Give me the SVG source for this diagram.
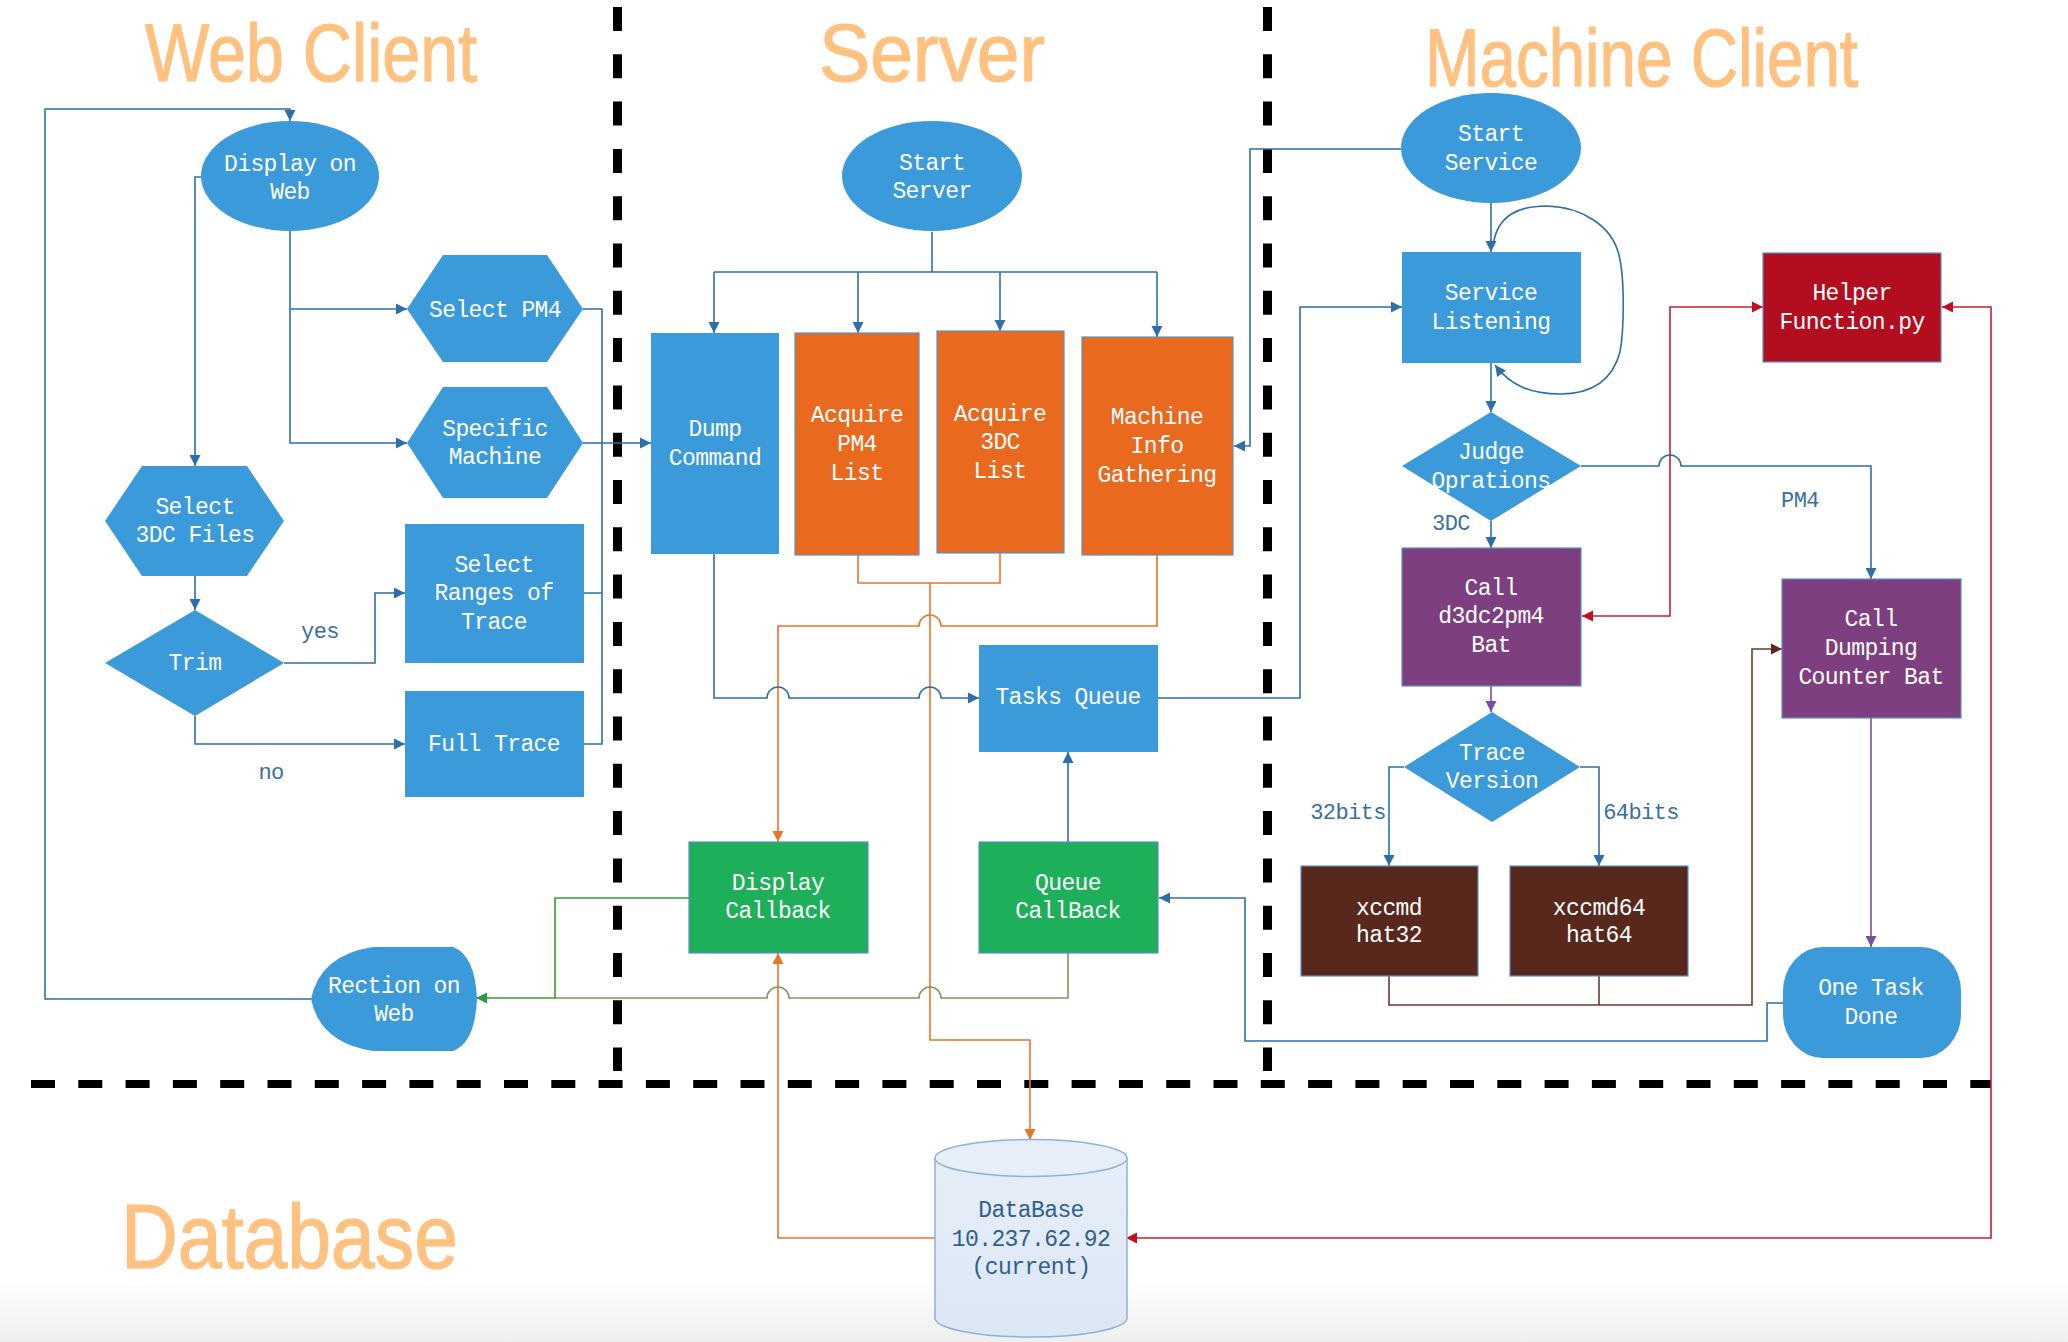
<svg xmlns="http://www.w3.org/2000/svg" width="2068" height="1342" viewBox="0 0 2068 1342">
<style>
.title{font-family:"Liberation Sans",Arial,sans-serif;font-size:82px;fill:#FFC17F;stroke:#FFC17F;stroke-width:1.2;}
.t{font-family:"Liberation Mono","DejaVu Sans Mono",monospace;font-size:23px;letter-spacing:-0.6px;fill:#FFFFFF;text-anchor:middle;}
.lbl{font-family:"Liberation Mono","DejaVu Sans Mono",monospace;font-size:22px;letter-spacing:-0.6px;fill:#3A6F9F;text-anchor:middle;}
.db{font-family:"Liberation Mono","DejaVu Sans Mono",monospace;font-size:23px;letter-spacing:-0.6px;fill:#2F5F8F;text-anchor:middle;}
.blue{fill:#3B9AD9;}
.orange{fill:#E9691F;stroke:#5E8FC4;stroke-width:1.2;}
.green{fill:#1EAF5B;stroke:#5E8FC4;stroke-width:1.2;}
.purple{fill:#7E3F80;stroke:#5E8FC4;stroke-width:1.2;}
.brown{fill:#58281C;stroke:#5E8FC4;stroke-width:1.2;}
.red{fill:#B20E20;stroke:#5E8FC4;stroke-width:1.2;}
.sep{stroke:#000;fill:none;stroke-dasharray:24 23.3;}
.c{fill:none;stroke-width:1.6;}
.cb{stroke:#2F6FA7;}
.co{stroke:#E8742A;}
.cg{stroke:#3A9A3A;}
.col{stroke:#7A9A5A;}
.cr{stroke:#C22030;}
.cbr{stroke:#6A3B2C;}
.cp{stroke:#7B4FA0;}
</style>
<defs>
<marker id="ab" markerUnits="userSpaceOnUse" markerWidth="12" markerHeight="12" refX="11" refY="6" orient="auto-start-reverse"><path d="M0,0.5 L11,6 L0,11.5 Z" fill="#2F6FA7"/></marker>
<marker id="ao" markerUnits="userSpaceOnUse" markerWidth="12" markerHeight="12" refX="11" refY="6" orient="auto-start-reverse"><path d="M0,0.5 L11,6 L0,11.5 Z" fill="#E8742A"/></marker>
<marker id="ag" markerUnits="userSpaceOnUse" markerWidth="12" markerHeight="12" refX="11" refY="6" orient="auto-start-reverse"><path d="M0,0.5 L11,6 L0,11.5 Z" fill="#2E9A3A"/></marker>
<marker id="ar" markerUnits="userSpaceOnUse" markerWidth="12" markerHeight="12" refX="11" refY="6" orient="auto-start-reverse"><path d="M0,0.5 L11,6 L0,11.5 Z" fill="#C0101F"/></marker>
<marker id="abr" markerUnits="userSpaceOnUse" markerWidth="12" markerHeight="12" refX="11" refY="6" orient="auto-start-reverse"><path d="M0,0.5 L11,6 L0,11.5 Z" fill="#5A2A1C"/></marker>
<marker id="ap" markerUnits="userSpaceOnUse" markerWidth="12" markerHeight="12" refX="11" refY="6" orient="auto-start-reverse"><path d="M0,0.5 L11,6 L0,11.5 Z" fill="#7B4FA0"/></marker>
<linearGradient id="bot" x1="0" y1="0" x2="0" y2="1"><stop offset="0" stop-color="#FFFFFF"/><stop offset="1" stop-color="#EEEEEE"/></linearGradient>
<linearGradient id="cyl" x1="0" y1="0" x2="0" y2="1"><stop offset="0" stop-color="#E6EEF8"/><stop offset="1" stop-color="#DCE7F4"/></linearGradient>
</defs>
<rect x="0" y="0" width="2068" height="1342" fill="#FFFFFF"/>
<rect x="0" y="1280" width="2068" height="62" fill="url(#bot)"/>

<g id="titles">
<text class="title" x="145" y="81" textLength="332" lengthAdjust="spacingAndGlyphs">Web Client</text>
<text class="title" x="819" y="81" textLength="226" lengthAdjust="spacingAndGlyphs">Server</text>
<text class="title" x="1425" y="86" textLength="433" lengthAdjust="spacingAndGlyphs">Machine Client</text>
<text class="title" style="font-size:90px" x="121" y="1268" textLength="337" lengthAdjust="spacingAndGlyphs">Database</text>
</g>

<g id="separators">
<line class="sep" x1="617.5" y1="7" x2="617.5" y2="1071" stroke-width="9"/>
<line class="sep" x1="1267.5" y1="7" x2="1267.5" y2="1071" stroke-width="9"/>
<line class="sep" x1="31" y1="1084" x2="1991" y2="1084" stroke-width="8"/>
</g>

<g id="connectors">
<path class="c cb" d="M311 999 H45 V109 H290 V121" marker-end="url(#ab)"/>
<path class="c cb" d="M202 177 H195 V466" marker-end="url(#ab)"/>
<path class="c cb" d="M290 231 V443 H407" marker-end="url(#ab)"/>
<path class="c cb" d="M290 309 H407" marker-end="url(#ab)"/>
<path class="c cb" d="M195 576 V610" marker-end="url(#ab)"/>
<path class="c cb" d="M284 663 H375 V593 H405" marker-end="url(#ab)"/>
<path class="c cb" d="M195 716 V744 H405" marker-end="url(#ab)"/>
<path class="c cb" d="M583 309 H602 V744 H584 M584 593 H602"/>
<path class="c cb" d="M583 443 H651" marker-end="url(#ab)"/>
<path class="c cb" d="M932 232 V272 M714 272 H1157"/>
<path class="c cb" d="M714 272 V333" marker-end="url(#ab)"/>
<path class="c cb" d="M858 272 V333" marker-end="url(#ab)"/>
<path class="c cb" d="M1000 272 V331" marker-end="url(#ab)"/>
<path class="c cb" d="M1157 272 V337" marker-end="url(#ab)"/>
<path class="c co" d="M858 555 V583 H1000 V553"/>
<path class="c co" d="M930 583 V1040 H1030 V1140" marker-end="url(#ao)"/>
<path class="c co" d="M1157 555 V626 H941 A11 11 0 0 0 919 626 H778 V842" marker-end="url(#ao)"/>
<path class="c co" d="M935 1238 H778 V953" marker-end="url(#ao)"/>
<path class="c cb" d="M714 554 V698 H767 A11 11 0 0 1 789 698 H919 A11 11 0 0 1 941 698 H979" marker-end="url(#ab)"/>
<path class="c cb" d="M1068 842 V752" marker-end="url(#ab)"/>
<path class="c col" d="M1068 953 V998 H941 A11 11 0 0 0 919 998 H789 A11 11 0 0 0 767 998 H555"/>
<path class="c cg" d="M689 898 H555 V998 H476" marker-end="url(#ag)"/>
<path class="c cb" d="M1158 698 H1300 V307 H1402" marker-end="url(#ab)"/>
<path class="c cb" d="M1401 149 H1250 V446 H1234" marker-end="url(#ab)"/>
<path class="c cb" d="M1783 1003 H1767 V1041 H1245 V898 H1159" marker-end="url(#ab)"/>
<path class="c cb" d="M1491 203 V252" marker-end="url(#ab)"/>
<path class="c cb" d="M1493 246 C1497 214 1520 206 1547 206 C1582 207 1612 226 1619 255 C1625 280 1624 330 1620 352 C1612 382 1590 394 1560 394 C1530 394 1510 385 1495 365" marker-end="url(#ab)"/>
<path class="c cb" d="M1491 363 V412" marker-end="url(#ab)"/>
<path class="c cb" d="M1491 521 V548" marker-end="url(#ab)"/>
<path class="c cb" d="M1581 466 H1659 A11 11 0 0 1 1681 466 H1871 V579" marker-end="url(#ab)"/>
<path class="c cp" d="M1491 686 V712" marker-end="url(#ap)"/>
<path class="c cb" d="M1404 767 H1389 V866" marker-end="url(#ab)"/>
<path class="c cb" d="M1580 767 H1599 V866" marker-end="url(#ab)"/>
<path class="c cbr" d="M1389 976 V1005 H1752 V649 H1782" marker-end="url(#abr)"/>
<path class="c cbr" d="M1599 976 V1005"/>
<path class="c cp" d="M1871 718 V947" marker-end="url(#ap)"/>
<path class="c cr" d="M1582 616 H1670 V307 H1763" marker-start="url(#ar)" marker-end="url(#ar)"/>
<path class="c cr" d="M1942 307 H1991 V1238 H1126" marker-start="url(#ar)" marker-end="url(#ar)"/>
</g>

<g id="n-display-on-web">
<ellipse class="blue" cx="290" cy="176" rx="89" ry="55"/>
<text class="t" x="290" y="171">Display on</text>
<text class="t" x="290" y="199">Web</text>
</g>
<g id="n-select-pm4">
<polygon class="blue" points="407,309 443,255 547,255 583,309 547,362 443,362"/>
<text class="t" x="495" y="317">Select PM4</text>
</g>
<g id="n-specific-machine">
<polygon class="blue" points="407,443 443,387 547,387 583,443 547,498 443,498"/>
<text class="t" x="495" y="436">Specific</text>
<text class="t" x="495" y="464">Machine</text>
</g>
<g id="n-select-3dc">
<polygon class="blue" points="105,521 142,466 247,466 284,521 247,576 142,576"/>
<text class="t" x="195" y="514">Select</text>
<text class="t" x="195" y="542">3DC Files</text>
</g>
<g id="n-trim">
<polygon class="blue" points="195,610 284,663 195,716 105,663"/>
<text class="t" x="195" y="670">Trim</text>
</g>
<g id="n-select-ranges">
<rect class="blue" x="405" y="524" width="179" height="139"/>
<text class="t" x="494" y="572">Select</text>
<text class="t" x="494" y="600">Ranges of</text>
<text class="t" x="494" y="629">Trace</text>
</g>
<g id="n-full-trace">
<rect class="blue" x="405" y="691" width="179" height="106"/>
<text class="t" x="494" y="751">Full Trace</text>
</g>
<g id="n-rection-on-web">
<path class="blue" d="M373 947 H453 Q475 955 477 999 Q475 1043 453 1051 H373 Q320 1043 311 999 Q320 955 373 947 Z"/>
<text class="t" x="394" y="993">Rection on</text>
<text class="t" x="394" y="1021">Web</text>
</g>
<g id="labels">
<text class="lbl" x="320" y="638">yes</text>
<text class="lbl" x="271" y="779">no</text>
<text class="lbl" x="1451" y="530">3DC</text>
<text class="lbl" x="1800" y="507">PM4</text>
<text class="lbl" x="1348" y="819">32bits</text>
<text class="lbl" x="1641" y="819">64bits</text>
</g>

<g id="n-start-server">
<ellipse class="blue" cx="932" cy="176" rx="90" ry="55"/>
<text class="t" x="932" y="170">Start</text>
<text class="t" x="932" y="198">Server</text>
</g>
<g id="n-dump-command">
<rect class="blue" x="651" y="333" width="128" height="221"/>
<text class="t" x="715" y="436">Dump</text>
<text class="t" x="715" y="465">Command</text>
</g>
<g id="n-acquire-pm4">
<rect class="orange" x="795" y="333" width="124" height="222"/>
<text class="t" x="857" y="422">Acquire</text>
<text class="t" x="857" y="451">PM4</text>
<text class="t" x="857" y="480">List</text>
</g>
<g id="n-acquire-3dc">
<rect class="orange" x="937" y="331" width="127" height="222"/>
<text class="t" x="1000" y="421">Acquire</text>
<text class="t" x="1000" y="449">3DC</text>
<text class="t" x="1000" y="478">List</text>
</g>
<g id="n-machine-info">
<rect class="orange" x="1082" y="337" width="151" height="218"/>
<text class="t" x="1157" y="424">Machine</text>
<text class="t" x="1157" y="453">Info</text>
<text class="t" x="1157" y="482">Gathering</text>
</g>
<g id="n-tasks-queue">
<rect class="blue" x="979" y="645" width="179" height="107"/>
<text class="t" x="1068" y="704">Tasks Queue</text>
</g>
<g id="n-display-callback">
<rect class="green" x="689" y="842" width="179" height="111"/>
<text class="t" x="778" y="890">Display</text>
<text class="t" x="778" y="918">Callback</text>
</g>
<g id="n-queue-callback">
<rect class="green" x="979" y="842" width="179" height="111"/>
<text class="t" x="1068" y="890">Queue</text>
<text class="t" x="1068" y="918">CallBack</text>
</g>
<g id="n-database">
<path d="M935 1158 V1318 A96 19 0 0 0 1127 1318 V1158" fill="url(#cyl)" stroke="#8DB1DB" stroke-width="1.5"/>
<ellipse cx="1031" cy="1158" rx="96" ry="18.5" fill="#E6EEF8" stroke="#8DB1DB" stroke-width="1.5"/>
<text class="db" x="1031" y="1217">DataBase</text>
<text class="db" x="1031" y="1246">10.237.62.92</text>
<text class="db" x="1031" y="1274">(current)</text>
</g>

<g id="n-start-service">
<ellipse class="blue" cx="1491" cy="148" rx="90" ry="55"/>
<text class="t" x="1491" y="141">Start</text>
<text class="t" x="1491" y="170">Service</text>
</g>
<g id="n-service-listening">
<rect class="blue" x="1402" y="252" width="179" height="111"/>
<text class="t" x="1491" y="300">Service</text>
<text class="t" x="1491" y="329">Listening</text>
</g>
<g id="n-judge">
<polygon class="blue" points="1491,412 1581,466 1491,521 1402,466"/>
<text class="t" x="1491" y="459">Judge</text>
<text class="t" x="1491" y="488">Oprations</text>
</g>
<g id="n-call-d3dc2pm4">
<rect class="purple" x="1402" y="548" width="179" height="138"/>
<text class="t" x="1491" y="595">Call</text>
<text class="t" x="1491" y="623">d3dc2pm4</text>
<text class="t" x="1491" y="652">Bat</text>
</g>
<g id="n-trace-version">
<polygon class="blue" points="1492,712 1580,767 1492,822 1404,767"/>
<text class="t" x="1492" y="760">Trace</text>
<text class="t" x="1492" y="788">Version</text>
</g>
<g id="n-xccmd">
<rect class="brown" x="1301" y="866" width="177" height="110"/>
<text class="t" x="1389" y="915">xccmd</text>
<text class="t" x="1389" y="942">hat32</text>
</g>
<g id="n-xccmd64">
<rect class="brown" x="1510" y="866" width="178" height="110"/>
<text class="t" x="1599" y="915">xccmd64</text>
<text class="t" x="1599" y="942">hat64</text>
</g>
<g id="n-helper">
<rect class="red" x="1763" y="253" width="178" height="109"/>
<text class="t" x="1852" y="300">Helper</text>
<text class="t" x="1852" y="329">Function.py</text>
</g>
<g id="n-call-dumping">
<rect class="purple" x="1782" y="579" width="179" height="139"/>
<text class="t" x="1871" y="626">Call</text>
<text class="t" x="1871" y="655">Dumping</text>
<text class="t" x="1871" y="684">Counter Bat</text>
</g>
<g id="n-one-task-done">
<rect class="blue" x="1783" y="947" width="178" height="111" rx="40" ry="44"/>
<text class="t" x="1871" y="995">One Task</text>
<text class="t" x="1871" y="1024">Done</text>
</g>
</svg>
